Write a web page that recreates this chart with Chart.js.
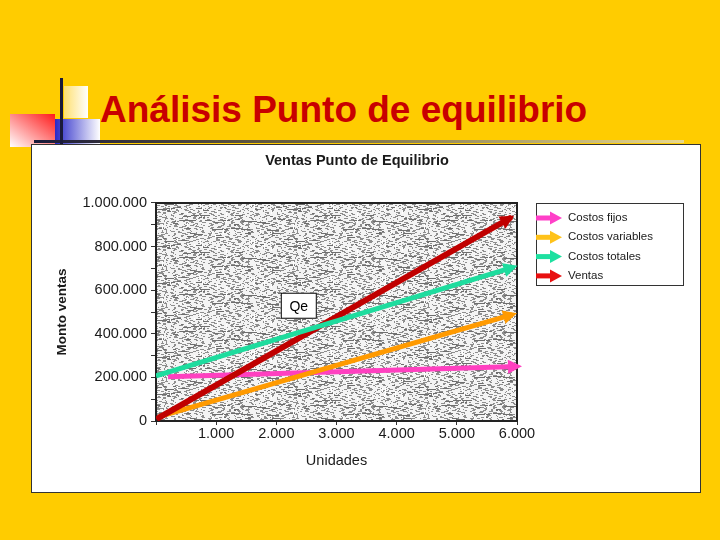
<!DOCTYPE html>
<html lang="es">
<head>
<meta charset="utf-8">
<title>Análisis Punto de equilibrio</title>
<script src="https://cdn.jsdelivr.net/npm/chart.js@4.4.1/dist/chart.umd.min.js"></script>
<style>
  html, body { margin: 0; padding: 0; }
  body { width: 720px; height: 540px; background: #ffcc00; position: relative; overflow: hidden; font-family: "Liberation Sans", Arial, sans-serif; }
  .deco { position: absolute; }
  #sqYellow { left: 64px; top: 86px; width: 24px; height: 32px; background: linear-gradient(to right, #ffe070, #ffffff); }
  #sqRed { left: 10px; top: 114px; width: 45px; height: 33px; background: linear-gradient(to bottom left, #ff1a1a, #ffffff); }
  #sqBlue { left: 55px; top: 119px; width: 45px; height: 28px; background: linear-gradient(to right, #2828c8, #ffffff); }
  #vLine { left: 60px; top: 78px; width: 3px; height: 70px; background: #1a1a3a; }
  #hLine { left: 34px; top: 140px; width: 650px; height: 3px; background: linear-gradient(to right, #1a1a3a, #6a6040 40%, #e8d890); }
  h1 { position: absolute; left: 100px; top: 91px; margin: 0; font: bold 37px/37px "Liberation Sans", Arial, sans-serif; color: #c80000; white-space: nowrap; }
  #panel { position: absolute; left: 31px; top: 144px; width: 668px; height: 347px; background: #fff; border: 1px solid #333; }
  #panel canvas { position: absolute; left: 0; top: 0; }
</style>
</head>
<body>
<div class="deco" id="sqYellow"></div>
<div class="deco" id="sqRed"></div>
<div class="deco" id="sqBlue"></div>
<div class="deco" id="hLine"></div>
<div class="deco" id="vLine"></div>
<h1>Análisis Punto de equilibrio</h1>
<div id="panel"><canvas id="chart" width="668" height="347"></canvas></div>

<script>
// series names (legend order)
const seriesNames = ['Costos fijos', 'Costos variables', 'Costos totales', 'Ventas'];

// start / end of each line (units, monto)
const fijosX = [200, 6000];
const fijosY = [203000, 250000];
const variablesX = [50, 5920];
const variablesY = [20000, 488000];
const totalesX = [0, 5930];
const totalesY = [207000, 705000];
const ventasX = [50, 5880];
const ventasY = [15000, 930000];

// axis ticks
const xTickValues = [1000, 2000, 3000, 4000, 5000, 6000];
const yLabelValues = [0, 200000, 400000, 600000, 800000, 1000000];

const lineColors = ['#ff40c0', '#ff9a00', '#1edc9e', '#c00000'];
const legendColors = ['#ff40c8', '#ffc21a', '#1ee0a0', '#e81010'];

const FONT = '"Liberation Sans", Arial, sans-serif';
Chart.defaults.font.family = FONT;
Chart.defaults.color = '#1a1a1a';

function fmt(n) {
  return String(n).replace(/\B(?=(\d{3})+(?!\d))/g, '.');
}

function toPoints(xs, ys) {
  return xs.map((x, i) => ({ x: x, y: ys[i] }));
}

// gray scanned-looking texture for the plot area (wraps without seams)
const hatchTile = document.createElement('canvas');
hatchTile.width = 131;
hatchTile.height = 37;
(function () {
  const W = hatchTile.width, H = hatchTile.height;
  const g = hatchTile.getContext('2d');
  g.fillStyle = '#8e8e8e';
  g.fillRect(0, 0, W, H);
  let s = 12345;
  const rnd = () => { s = (s * 1103515245 + 12345) % 2147483648; return s / 2147483648; };
  const seg = (x, y, w, h) => { g.fillRect(x, y, w, h); g.fillRect(x - W, y, w, h); };
  g.fillStyle = '#f4f4f4';
  for (let row = 0; row < H; row++) {
    const start = Math.floor(rnd() * 6);
    let x = start;
    while (x < W + start - 3) {
      const len = 2 + Math.floor(rnd() * 10);
      seg(x, row, Math.min(len, W + start - 1 - x), 1);
      x += len + 1 + Math.floor(rnd() * 4);
    }
  }
  g.fillStyle = '#6e6e6e';
  for (let k = 0; k < 70; k++) {
    seg(Math.floor(rnd() * W), Math.floor(rnd() * H), 2 + Math.floor(rnd() * 8), 1);
  }
  g.fillStyle = '#ffffff';
  for (let k = 0; k < 25; k++) {
    g.fillRect(Math.floor(rnd() * W), Math.floor(rnd() * (H - 5)), 1, 2 + Math.floor(rnd() * 4));
  }
})();

const plotBackground = {
  id: 'plotBackground',
  beforeDraw(chart) {
    const { ctx, chartArea: a } = chart;
    ctx.save();
    ctx.fillStyle = ctx.createPattern(hatchTile, 'repeat');
    ctx.fillRect(a.left, a.top, a.right - a.left, a.bottom - a.top);
    ctx.restore();
  },
  beforeDatasetsDraw(chart) {
    const { ctx, chartArea: a } = chart;
    ctx.save();
    ctx.strokeStyle = '#222';
    ctx.lineWidth = 2;
    ctx.beginPath();
    ctx.moveTo(a.left, a.top);
    ctx.lineTo(a.right, a.top);
    ctx.lineTo(a.right, a.bottom);
    ctx.stroke();
    ctx.restore();
  }
};

function drawArrow(ctx, x0, y0, x1, y1, color, len, half, ext) {
  const a = Math.atan2(y1 - y0, x1 - x0);
  const c = Math.cos(a), s = Math.sin(a);
  const tx = x1 + c * ext, ty = y1 + s * ext;
  const bx = tx - c * len, by = ty - s * len;
  ctx.beginPath();
  ctx.moveTo(tx, ty);
  ctx.lineTo(bx - s * half, by + c * half);
  ctx.lineTo(bx + s * half, by - c * half);
  ctx.closePath();
  ctx.fillStyle = color;
  ctx.fill();
}

// arrow heads at the end of every line
const arrowHeads = {
  id: 'arrowHeads',
  afterDatasetsDraw(chart) {
    const ctx = chart.ctx;
    ctx.save();
    chart.data.datasets.forEach((ds, i) => {
      const pts = chart.getDatasetMeta(i).data;
      const p0 = pts[pts.length - 2], p1 = pts[pts.length - 1];
      drawArrow(ctx, p0.x, p0.y, p1.x, p1.y, ds.borderColor, 14, 7, 5);
    });
    ctx.restore();
  }
};

// "Qe" box near the crossing of Ventas and Costos totales
const qeLabel = {
  id: 'qeLabel',
  afterDatasetsDraw(chart) {
    const sx = chart.scales.x, sy = chart.scales.y;
    const m1 = (ventasY[1] - ventasY[0]) / (ventasX[1] - ventasX[0]);
    const m2 = (totalesY[1] - totalesY[0]) / (totalesX[1] - totalesX[0]);
    const b1 = ventasY[0] - m1 * ventasX[0];
    const b2 = totalesY[0] - m2 * totalesX[0];
    const qx = (b2 - b1) / (m1 - m2);
    const qy = m1 * qx + b1;
    const cx = sx.getPixelForValue(qx) - 22;
    const cy = sy.getPixelForValue(qy) - 20;
    const ctx = chart.ctx;
    ctx.save();
    ctx.fillStyle = '#fff';
    ctx.fillRect(cx - 18, cy - 13, 36, 26);
    ctx.strokeStyle = '#000';
    ctx.lineWidth = 1;
    ctx.strokeRect(cx - 17.5, cy - 12.5, 35, 25);
    ctx.fillStyle = '#000';
    ctx.font = '14px ' + FONT;
    ctx.textAlign = 'center';
    ctx.textBaseline = 'middle';
    ctx.fillText('Qe', cx, cy + 1);
    ctx.restore();
  }
};

// boxed legend with arrow symbols, to the right of the plot
const arrowLegend = {
  id: 'arrowLegend',
  afterDraw(chart) {
    const { ctx, chartArea: a } = chart;
    const left = a.right + 19, top = a.top;
    ctx.save();
    ctx.strokeStyle = '#333';
    ctx.lineWidth = 1;
    ctx.strokeRect(left + 0.5, top + 0.5, 147, 82);
    ctx.font = '11.5px ' + FONT;
    ctx.textBaseline = 'middle';
    seriesNames.forEach((name, i) => {
      const y = top + 15 + i * 19.3;
      ctx.fillStyle = legendColors[i];
      ctx.fillRect(left, y - 2.5, 16, 5);
      drawArrow(ctx, left, y, left + 26, y, legendColors[i], 12, 6.5, 0);
      ctx.fillStyle = '#1a1a1a';
      ctx.fillText(name, left + 32, y);
    });
    ctx.restore();
  }
};

const xs = [fijosX, variablesX, totalesX, ventasX];
const ys = [fijosY, variablesY, totalesY, ventasY];
const widths = [5, 5, 5, 6];
const drawOrder = [3, 2, 0, 1];

new Chart(document.getElementById('chart'), {
  type: 'line',
  data: {
    datasets: seriesNames.map((name, i) => ({
      label: name,
      data: toPoints(xs[i], ys[i]),
      borderColor: lineColors[i],
      borderWidth: widths[i],
      borderCapStyle: i === 3 ? 'round' : 'butt',
      pointRadius: 0,
      tension: 0,
      fill: false,
      order: drawOrder[i],
      xAxisID: 'x',
      yAxisID: 'y'
    }))
  },
  options: {
    responsive: false,
    animation: false,
    events: [],
    layout: { padding: { left: 0, right: 18, top: 0, bottom: 0 } },
    plugins: {
      legend: { display: false },
      tooltip: { enabled: false },
      title: {
        display: true,
        text: 'Ventas Punto de Equilibrio',
        color: '#1a1a1a',
        font: { size: 14.5, weight: 'bold', lineHeight: 1.2 },
        padding: { top: 7.3, bottom: 33.3 }
      }
    },
    scales: {
      x: {
        type: 'linear',
        min: 0,
        max: 6000,
        afterFit: s => { s.height = 71; },
        afterBuildTicks: s => { s.ticks = [0].concat(xTickValues).map(v => ({ value: v })); },
        ticks: {
          font: { size: 14.5 },
          color: '#1a1a1a',
          padding: 0,
          maxRotation: 0,
          autoSkip: false,
          callback: v => (xTickValues.includes(v) ? fmt(v) : '')
        },
        grid: { drawOnChartArea: false, drawTicks: true, tickLength: 4, color: '#333' },
        border: { display: true, color: '#222', width: 2 },
        title: {
          display: true,
          text: 'Unidades',
          color: '#1a1a1a',
          font: { size: 14.5, lineHeight: 1.2 },
          padding: { top: 0, bottom: 22.3 }
        }
      },
      y: {
        type: 'linear',
        position: 'left',
        min: 0,
        max: 1000000,
        afterFit: s => { s.width = 124; },
        ticks: {
          stepSize: 100000,
          autoSkip: false,
          font: { size: 14.5 },
          color: '#1a1a1a',
          padding: 4,
          callback: v => (yLabelValues.includes(v) ? fmt(v) : '')
        },
        grid: { drawOnChartArea: false, drawTicks: true, tickLength: 5, color: '#333' },
        border: { display: true, color: '#222', width: 2 },
        title: {
          display: true,
          text: 'Monto ventas',
          color: '#1a1a1a',
          font: { size: 13.5, weight: 'bold', lineHeight: 1.2 },
          padding: { top: 21.9, bottom: 0 }
        }
      },
      // empty right-hand strip that keeps room for the boxed legend
      legendSpace: {
        type: 'linear',
        position: 'right',
        display: true,
        ticks: { display: false },
        grid: { display: false },
        border: { display: false },
        afterFit: s => { s.width = 165; }
      }
    }
  },
  plugins: [plotBackground, arrowHeads, qeLabel, arrowLegend]
});
</script>
</body>
</html>
